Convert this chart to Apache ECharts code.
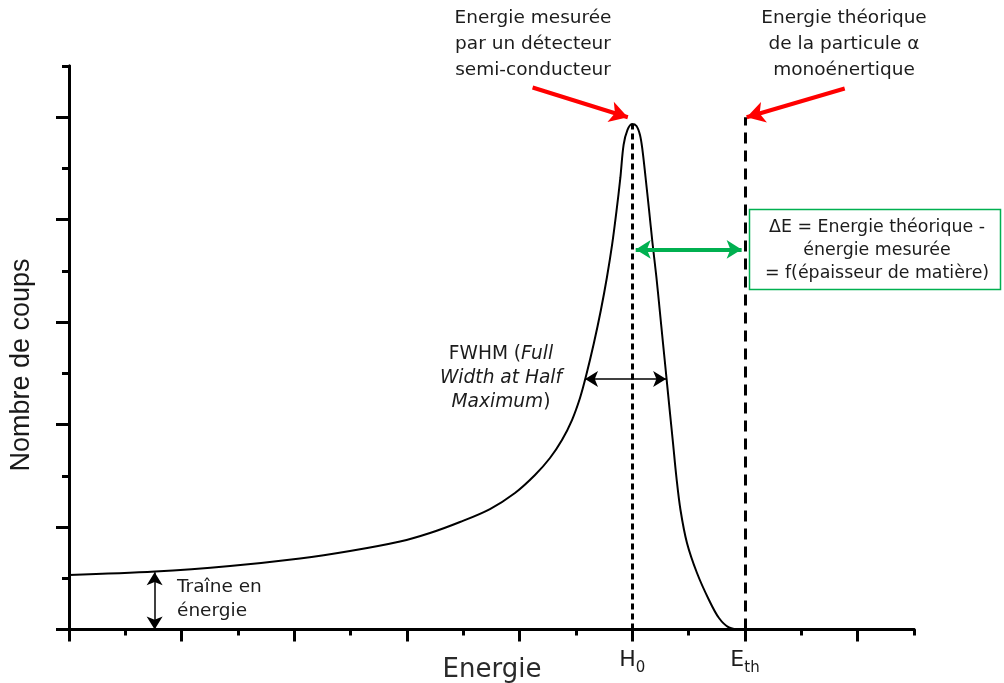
<!DOCTYPE html>
<html><head><meta charset="utf-8">
<script src="https://cdn.jsdelivr.net/npm/echarts@6/dist/echarts.min.js"></script>
<style>html,body{margin:0;padding:0;background:#fff}#c{width:1004px;height:683px}</style>
</head><body><div id="c"></div>
<script>
// ---- data (arbitrary units) ----
const energy = [0, 1.527, 2.858, 4.101, 4.988, 5.876, 6.408, 6.941, 7.473, 7.917, 8.272, 8.538, 8.751, 8.929, 9.071, 9.178, 9.318, 9.442, 9.550, 9.643, 9.719, 9.787, 9.845, 9.914, 9.994,
                10.074, 10.136, 10.180, 10.234, 10.296, 10.358, 10.427, 10.486, 10.544, 10.603, 10.663, 10.722, 10.782, 10.855, 10.970, 11.148, 11.361, 11.538, 11.716, 11.929, 15];
const counts = [1.064, 1.132, 1.240, 1.386, 1.532, 1.718, 1.884, 2.099, 2.352, 2.665, 3.016, 3.348, 3.699, 4.089, 4.519, 4.948, 5.593, 6.237, 6.881, 7.526, 8.170, 8.814, 9.459, 9.751, 9.868,
                9.829, 9.653, 9.360, 8.833, 8.199, 7.545, 6.881, 6.237, 5.593, 4.948, 4.284, 3.641, 2.977, 2.333, 1.689, 1.103, 0.576, 0.224, 0.039, 0, 0];
const xMajorTicks = [0, 2, 4, 6, 8, 10, 12, 14];
const xMinorTicks = [1, 3, 5, 7, 9, 11, 13, 15];
const yMajorTicks = [0, 2, 4, 6, 8, 10];
const yMinorTicks = [1, 3, 5, 7, 9, 11];
const xLabelValues = [10, 12];
const xLabelTexts = ['{m|H}{s|0}', '{m|E}{s|th}'];
const H0 = 10, Eth = 12, peak = 9.87, thTop = 10;
const fwhmY = 4.89, fwhmLeft = 9.16, fwhmRight = 10.60;
const deltaY = 7.42;
const trainX = 1.52, trainTop = 1.12;
const arrowMeasured = [[8.23, 10.58], [9.92, 10.0]];
const arrowTheory = [[13.77, 10.56], [12.03, 10.0]];

const chart = echarts.init(document.getElementById('c'));
const axisLine = {lineStyle: {color: '#000', width: 3}};
const txt = '#1c1c1c';
function mlSeries(name, data, color, width, type, symbols, size) {
  return {
    name, type: 'line', data: [], silent: true,
    markLine: {
      silent: true, animation: false,
      symbol: symbols, symbolSize: size,
      label: {show: false},
      lineStyle: {color, width, type, opacity: 1},
      emphasis: {disabled: true},
      data
    }
  };
}
chart.setOption({
  animation: false,
  grid: {left: 69, right: 90, top: 66, bottom: 53.5},
  xAxis: [
    {type: 'value', min: 0, max: 15, position: 'bottom', axisLine,
     splitLine: {show: false},
     axisTick: {length: 6, lineStyle: {width: 3, color: '#000'}, customValues: xMinorTicks},
     axisLabel: {show: false}},
    {type: 'value', min: 0, max: 15, position: 'bottom', axisLine,
     splitLine: {show: false},
     axisTick: {length: 12, lineStyle: {width: 3, color: '#000'}, customValues: xMajorTicks},
     axisLabel: {customValues: xLabelValues, margin: 16,
       formatter: v => xLabelTexts[xLabelValues.indexOf(v)],
       rich: {
         m: {fontFamily: 'DejaVu Sans', fontSize: 22, lineHeight: 30, color: txt},
         s: {fontFamily: 'DejaVu Sans', fontSize: 15, lineHeight: 16, verticalAlign: 'bottom', color: txt}
       }}}
  ],
  yAxis: [
    {type: 'value', min: 0, max: 11, position: 'left', axisLine,
     splitLine: {show: false},
     axisTick: {length: 7, lineStyle: {width: 3, color: '#000'}, customValues: yMinorTicks},
     axisLabel: {show: false}},
    {type: 'value', min: 0, max: 11, position: 'left', axisLine,
     splitLine: {show: false},
     axisTick: {length: 13, lineStyle: {width: 3, color: '#000'}, customValues: yMajorTicks},
     axisLabel: {show: false}}
  ],
  series: [
    {name: 'spectre', type: 'line', smooth: 0.33, showSymbol: false, silent: true,
     data: energy.map((e, i) => [e, counts[i]]),
     lineStyle: {color: '#000', width: 2}},
    mlSeries('H0', [[{coord: [H0, 0]}, {coord: [H0, peak]}]], '#000', 3, [6, 4], 'none', 0),
    mlSeries('Eth', [[{coord: [Eth, 0]}, {coord: [Eth, thTop]}]], '#000', 3, [11, 7], 'none', 0),
    mlSeries('rouge', [[{coord: arrowMeasured[0]}, {coord: arrowMeasured[1]}],
                       [{coord: arrowTheory[0]}, {coord: arrowTheory[1]}]], '#ff0000', 4, 'solid', ['none', 'arrow'], [16, 18]),
    mlSeries('deltaE', [[{coord: [H0 + 0.06, deltaY]}, {coord: [Eth - 0.06, deltaY]}]], '#00b050', 4, 'solid', ['arrow', 'arrow'], [14, 15]),
    mlSeries('fwhm', [[{coord: [fwhmLeft, fwhmY]}, {coord: [fwhmRight, fwhmY]}]], '#000', 1.5, 'solid', ['arrow', 'arrow'], [12, 13]),
    mlSeries('traine', [[{coord: [trainX, trainTop]}, {coord: [trainX, 0]}]], '#000', 1.5, 'solid', ['arrow', 'arrow'], [12, 13])
  ],
  graphic: [
    {type: 'text', x: 533, y: 5, silent: true,
     style: {text: 'Energie mesurée\npar un détecteur\nsemi-conducteur', fontFamily: 'DejaVu Sans', fontSize: 18.5,
       lineHeight: 26, fill: txt, align: 'center', textAlign: 'center', verticalAlign: 'top', textVerticalAlign: 'top'}},
    {type: 'text', x: 844, y: 5, silent: true,
     style: {text: 'Energie théorique\nde la particule α\nmonoénertique', fontFamily: 'DejaVu Sans', fontSize: 18.5,
       lineHeight: 26, fill: txt, align: 'center', textAlign: 'center', verticalAlign: 'top', textVerticalAlign: 'top'}},
    {type: 'rect', silent: true, shape: {x: 749.5, y: 209.5, width: 251, height: 80},
     style: {fill: 'none', stroke: '#00b050', lineWidth: 1.5}},
    {type: 'text', x: 877, y: 215.5, silent: true,
     style: {text: 'ΔE = Energie théorique -\nénergie mesurée\n= f(épaisseur de matière)', fontFamily: 'DejaVu Sans', fontSize: 17.4,
       lineHeight: 23, fill: txt, align: 'center', textAlign: 'center', verticalAlign: 'top', textVerticalAlign: 'top'}},
    {type: 'text', x: 501, y: 342, silent: true,
     style: {text: '{n|FWHM (}{i|Full}\n{i|Width at Half}\n{i|Maximum}{n|)}', fill: txt,
       align: 'center', textAlign: 'center', verticalAlign: 'top', textVerticalAlign: 'top',
       rich: {
         n: {fontFamily: 'DejaVu Sans', fontSize: 18.6, lineHeight: 24, fill: txt, color: txt},
         i: {fontFamily: 'DejaVu Sans', fontSize: 18.6, fontStyle: 'italic', lineHeight: 24, fill: txt, color: txt}
       }}},
    {type: 'text', x: 177, y: 575, silent: true,
     style: {text: 'Traîne en\nénergie', fontFamily: 'DejaVu Sans', fontSize: 18.5, lineHeight: 24, fill: txt,
       align: 'left', textAlign: 'left', verticalAlign: 'top', textVerticalAlign: 'top'}},
    {type: 'text', x: 492, y: 670, silent: true,
     style: {text: 'Energie', fontFamily: 'DejaVu Sans', fontSize: 26, fill: '#2a2a2a',
       align: 'center', textAlign: 'center', verticalAlign: 'middle', textVerticalAlign: 'middle'}},
    {type: 'text', x: 22, y: 365, rotation: Math.PI / 2, silent: true,
     style: {text: 'Nombre de coups', fontFamily: 'Liberation Sans', fontSize: 27, fill: '#1a1a1a',
       align: 'center', textAlign: 'center', verticalAlign: 'middle', textVerticalAlign: 'middle'}}
  ]
});
</script></body></html>
